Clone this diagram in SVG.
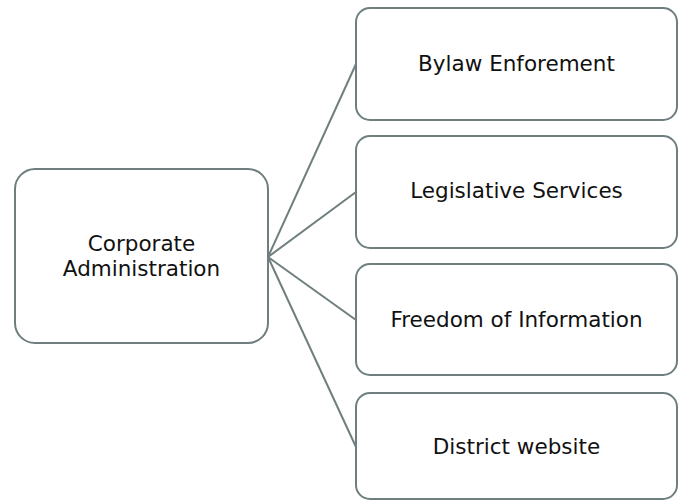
<svg xmlns="http://www.w3.org/2000/svg" width="683" height="501" viewBox="0 0 683 501">
<style>
.box{fill:#ffffff;stroke:#6f7e7e;stroke-width:2}
.lbl{font-family:"DejaVu Sans",Verdana,sans-serif;font-size:21.5px;fill:#111111;text-anchor:middle}
.conn{stroke:#6f7e7e;stroke-width:2;fill:none}
</style>
<rect width="683" height="501" fill="#ffffff"/>
<g id="connectors">
<line class="conn" x1="268" y1="257" x2="356" y2="64"/>
<line class="conn" x1="268" y1="257" x2="356" y2="192"/>
<line class="conn" x1="268" y1="257" x2="356" y2="320"/>
<line class="conn" x1="268" y1="257" x2="356" y2="447"/>
</g>
<g id="corporate-administration">
<rect class="box" x="15" y="169" width="253" height="174" rx="20"/>
<text class="lbl" x="141.5" y="251">Corporate</text>
<text class="lbl" x="141.5" y="276">Administration</text>
</g>
<g id="bylaw-enforcement">
<rect class="box" x="356" y="8" width="321" height="112" rx="14"/>
<text class="lbl" x="516.5" y="71">Bylaw Enforement</text>
</g>
<g id="legislative-services">
<rect class="box" x="356" y="136" width="321" height="112" rx="14"/>
<text class="lbl" x="516.5" y="198">Legislative Services</text>
</g>
<g id="freedom-of-information">
<rect class="box" x="356" y="264" width="321" height="111" rx="14"/>
<text class="lbl" x="516.5" y="327">Freedom of Information</text>
</g>
<g id="district-website">
<rect class="box" x="356" y="393" width="321" height="106" rx="14"/>
<text class="lbl" x="516.5" y="454">District website</text>
</g>
</svg>
